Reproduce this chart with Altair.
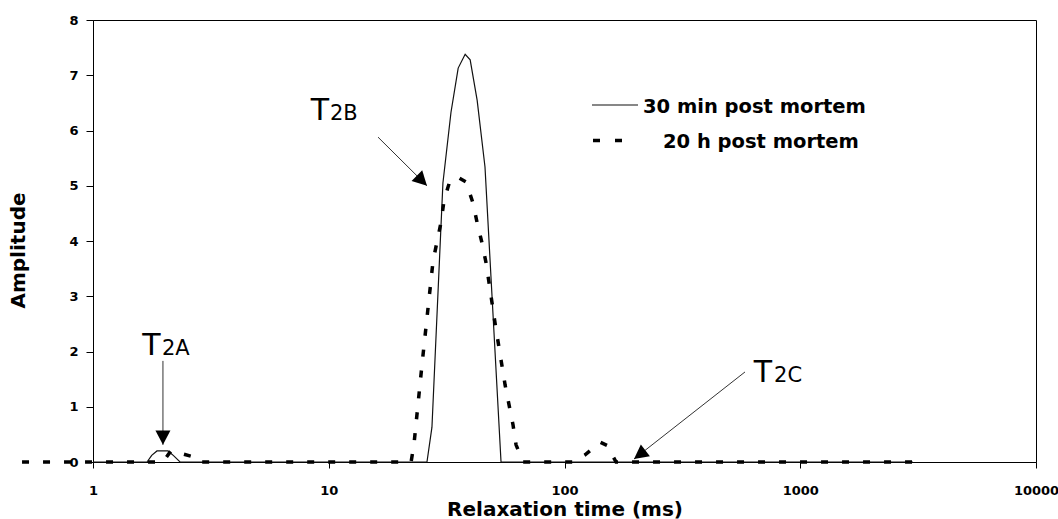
import altair as alt
import pandas as pd

# Relaxation time distributions (ms) and amplitudes
t30_ms = [1.0, 1.695, 1.774, 1.868, 2.08, 2.19, 2.34, 26.1, 27.4, 30.5, 33.0, 35.4,
          37.9, 39.8, 42.6, 46.0, 53.8, 3000.0]
t30_amp = [0, 0, 0.12, 0.2, 0.2, 0.12, 0, 0, 0.63, 5.05, 6.33, 7.13,
           7.38, 7.28, 6.55, 5.34, 0, 0]

h20_ms = [0.5, 1.98, 2.14, 2.29, 2.63, 2.76, 22.35, 23.0, 24.9, 27.7, 29.95, 30.8,
          32.7, 35.4, 38.2, 40.9, 42.6, 44.7, 46.5, 50.8, 56.0, 60.5, 62.3, 66.7,
          107.8, 122.3, 141.6, 151.6, 165.5, 3000.0]
h20_amp = [0, 0, 0.2, 0.17, 0.1, 0, 0, 0.33, 1.79, 3.64, 4.34, 4.72,
           5.10, 5.15, 5.07, 4.69, 4.33, 3.96, 3.60, 2.5, 1.39, 0.67, 0.31, 0,
           0, 0.13, 0.36, 0.3, 0, 0]

x_ticks = [1, 10, 100, 1000, 10000]
y_ticks = [0, 1, 2, 3, 4, 5, 6, 7, 8]

series_names = ["30 min post mortem", "20 h post mortem"]

# Peak labels (T with subscript) in data coordinates
peak_main = ["T", "T", "T"]
peak_sub = ["2A", "2B", "2C"]
peak_x = [1.77, 9.18, 695.0]
peak_sub_x = [1.96, 10.12, 774.0]
peak_y = [1.94, 6.19, 1.45]

# Arrows pointing at each peak: start, tip, head rotation
arrow_x0 = [1.98, 16.18, 583.0]
arrow_y0 = [1.83, 5.88, 1.63]
arrow_x1 = [1.98, 26.1, 197.2]
arrow_y1 = [0.31, 5.0, 0.054]
arrow_angle = [0, 315, 52.8]

FONT = "DejaVu Sans"

t30 = pd.DataFrame({"ms": t30_ms, "amp": t30_amp})
h20 = pd.DataFrame({"ms": h20_ms, "amp": h20_amp})
labels = pd.DataFrame({"main": peak_main, "sub": peak_sub, "lx": peak_x,
                       "sx": peak_sub_x, "ly": peak_y})
arrows = pd.DataFrame({"x0": arrow_x0, "y0": arrow_y0, "x1": arrow_x1,
                       "y1": arrow_y1, "ang": arrow_angle})

xscale = alt.Scale(type="log", domain=[1, 10000], nice=False)
yscale = alt.Scale(domain=[0, 8], nice=False, zero=True)

xaxis = alt.Axis(values=x_ticks, format="d", grid=False, tickSize=6,
                 tickColor="black", domainColor="black", labelColor="black",
                 labelFont=FONT, labelFontWeight="bold", labelFontSize=13,
                 labelPadding=16, labelFlush=False, labelOverlap=False,
                 titleFont=FONT, titleFontWeight="bold", titleFontSize=20,
                 titleColor="black", titleBaseline="alphabetic", titleY=53)
yaxis = alt.Axis(values=y_ticks, grid=False, tickSize=7, tickColor="black",
                 domainColor="black", labelColor="black", labelFont=FONT,
                 labelFontWeight="bold", labelFontSize=13, labelPadding=8,
                 titleFont=FONT, titleFontWeight="bold", titleFontSize=20,
                 titleColor="black", titleAngle=270, titleBaseline="alphabetic",
                 titleAlign="center", titleX=-69, titleY=230)

XT = "Relaxation time (ms)"
YT = "Amplitude"


def X(field):
    return alt.X(f"{field}:Q", scale=xscale, axis=xaxis, title=XT)


def Y(field):
    return alt.Y(f"{field}:Q", scale=yscale, axis=yaxis, title=YT)


line30 = alt.Chart(t30).mark_line(color="#111", strokeWidth=1.2, clip=False).encode(
    x=X("ms"), y=Y("amp"))
line20 = alt.Chart(h20).mark_line(color="black", strokeWidth=3.5, strokeDash=[7, 14],
                                  strokeCap="butt", clip=False).encode(
    x=X("ms"), y=Y("amp"))

arrow_lines = alt.Chart(arrows).mark_rule(color="#333", strokeWidth=1).encode(
    x=X("x0"), y=Y("y0"), x2="x1:Q", y2="y1:Q")
arrow_heads = alt.Chart(arrows).mark_point(
    shape="M0,0L-1,-1.9L1,-1.9Z", size=225, filled=True, color="black",
    opacity=1, strokeWidth=0).encode(
    x=X("x1"), y=Y("y1"), angle=alt.Angle("ang:Q", scale=None))

main_text = alt.Chart(labels).mark_text(
    font=FONT, fontSize=30, align="center", baseline="alphabetic", color="black").encode(
    x=X("lx"), y=Y("ly"), text="main:N")
sub_text = alt.Chart(labels).mark_text(
    font=FONT, fontSize=21, align="left", baseline="alphabetic", color="black").encode(
    x=X("sx"), y=Y("ly"), text="sub:N")

# Legend
leg1 = pd.DataFrame({"label": [series_names[0]]})
leg2 = pd.DataFrame({"label": [series_names[1]]})
leg_line1 = alt.Chart(leg1).mark_rule(color="#111", strokeWidth=1.2).encode(
    x=alt.value(499), x2=alt.value(545), y=alt.value(85))
leg_line2 = alt.Chart(leg2).mark_rule(color="black", strokeWidth=3.5,
                                      strokeDash=[7, 15], strokeCap="butt").encode(
    x=alt.value(500), x2=alt.value(529), y=alt.value(120.5))
leg_text1 = alt.Chart(leg1).mark_text(
    font=FONT, fontWeight="bold", fontSize=19.5, align="left",
    baseline="alphabetic", color="black").encode(
    x=alt.value(550), y=alt.value(93), text="label:N")
leg_text2 = alt.Chart(leg2).mark_text(
    font=FONT, fontWeight="bold", fontSize=19.5, align="left",
    baseline="alphabetic", color="black").encode(
    x=alt.value(570), y=alt.value(128), text="label:N")

chart = alt.layer(
    line30, line20, arrow_lines, arrow_heads, main_text, sub_text,
    leg_line1, leg_line2, leg_text1, leg_text2,
).properties(
    width=943, height=442,
    padding={"left": 93, "top": 20, "right": 22, "bottom": 57},
    autosize=alt.AutoSizeParams(type="none"),
    background="white",
).configure_view(stroke="black", strokeWidth=1)

chart.save("out.html", embed_options={"renderer": "svg", "actions": False})
